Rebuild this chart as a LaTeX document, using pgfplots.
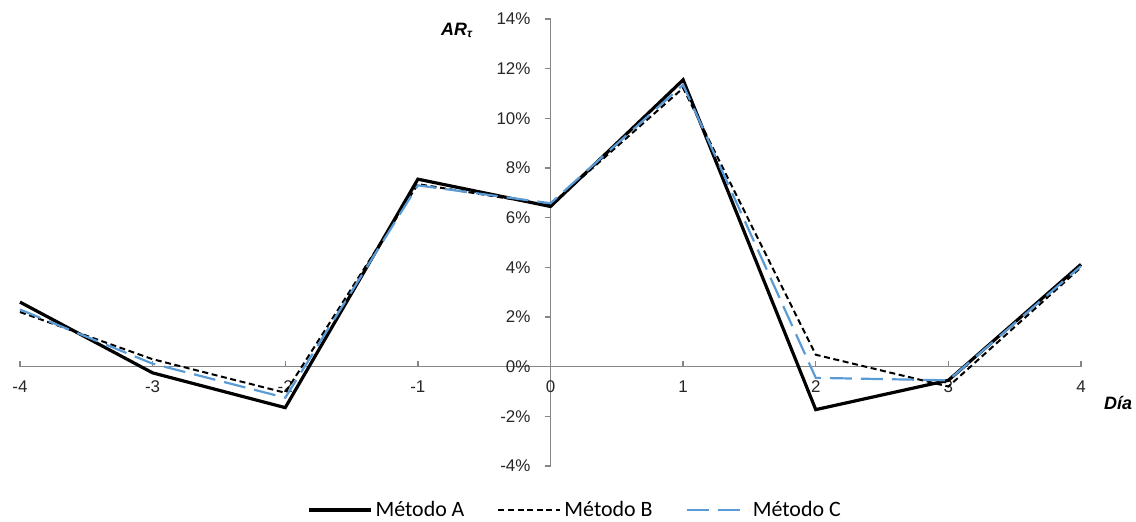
\documentclass[border=0pt]{standalone}
\usepackage{pgfplots}
\pgfplotsset{compat=1.18}
\usepackage{fontspec}
\setmainfont{Liberation Sans}
\newfontfamily\legfont{Carlito}
\definecolor{axgray}{RGB}{134,134,134}
\definecolor{mblue}{RGB}{91,155,213}

\pgfplotstableread{
dia  A      B      C
-4   2.60   2.20   2.30
-3  -0.25   0.30   0.12
-2  -1.65  -1.05  -1.25
-1   7.55   7.35   7.30
 0   6.45   6.50   6.58
 1  11.55  11.22  11.35
 2  -1.73   0.48  -0.45
 3  -0.55  -0.80  -0.55
 4   4.12   4.00   4.05
}\datos

\begin{document}
\begin{tikzpicture}
\useasboundingbox (-10bp,-28bp) rectangle (558bp,233bp);
\begin{axis}[
  at={(0,0)}, anchor=south west,
  scale only axis, width=530.5bp, height=223.5bp,
  xmin=-4, xmax=4, ymin=-4, ymax=14,
  axis lines=middle,
  axis line style={-, axgray, line width=0.7bp},
  xtick={-4,...,4}, ytick={-4,-2,...,14},
  hide obscured x ticks=false, hide obscured y ticks=false,
  major tick length=3bp,
  tick align=center,
  x tick style={axgray, line width=0.7bp, yshift=1.5bp},
  y tick style={axgray, line width=0.7bp, xshift=-1.5bp},
  /pgf/number format/assume math mode=true,
  tick label style={font=\fontsize{8.5}{10}\selectfont, text=black!85},
  xticklabel style={anchor=north, yshift=-2bp},
  yticklabel style={anchor=east, xshift=-5bp},
  yticklabel={\pgfmathprintnumber{\tick}\%},
  clip=false,
  legend columns=3,
  legend style={at={(axis description cs:0.5236,0)}, anchor=center, yshift=-22bp,
    draw=none, fill=none, font=\legfont\fontsize{11}{13}\selectfont,
    /tikz/every even column/.append style={column sep=15bp},
    nodes={inner sep=1.5bp}},
  legend image code/.code={\draw[#1] (0bp,0bp) -- (31bp,0bp);},
]
\addplot[black, line width=1.6bp] table[x=dia, y=A] {\datos};
\addlegendentry{Método A}
\addplot[black, line width=1bp, dash pattern=on 3bp off 1.8bp] table[x=dia, y=B] {\datos};
\addlegendentry{Método B}
\addplot[mblue, line width=1.1bp, dash pattern=on 11bp off 4.5bp] table[x=dia, y=C] {\datos};
\addlegendentry{Método C}
\node[font=\fontsize{9}{10}\selectfont\bfseries\itshape] at (axis cs:4.28,-1.45) {Día};
\node[font=\fontsize{9}{10}\selectfont\bfseries\itshape] at (axis cs:-0.705,13.56) {AR\textsubscript{τ}};
\end{axis}
\end{tikzpicture}
\end{document}
